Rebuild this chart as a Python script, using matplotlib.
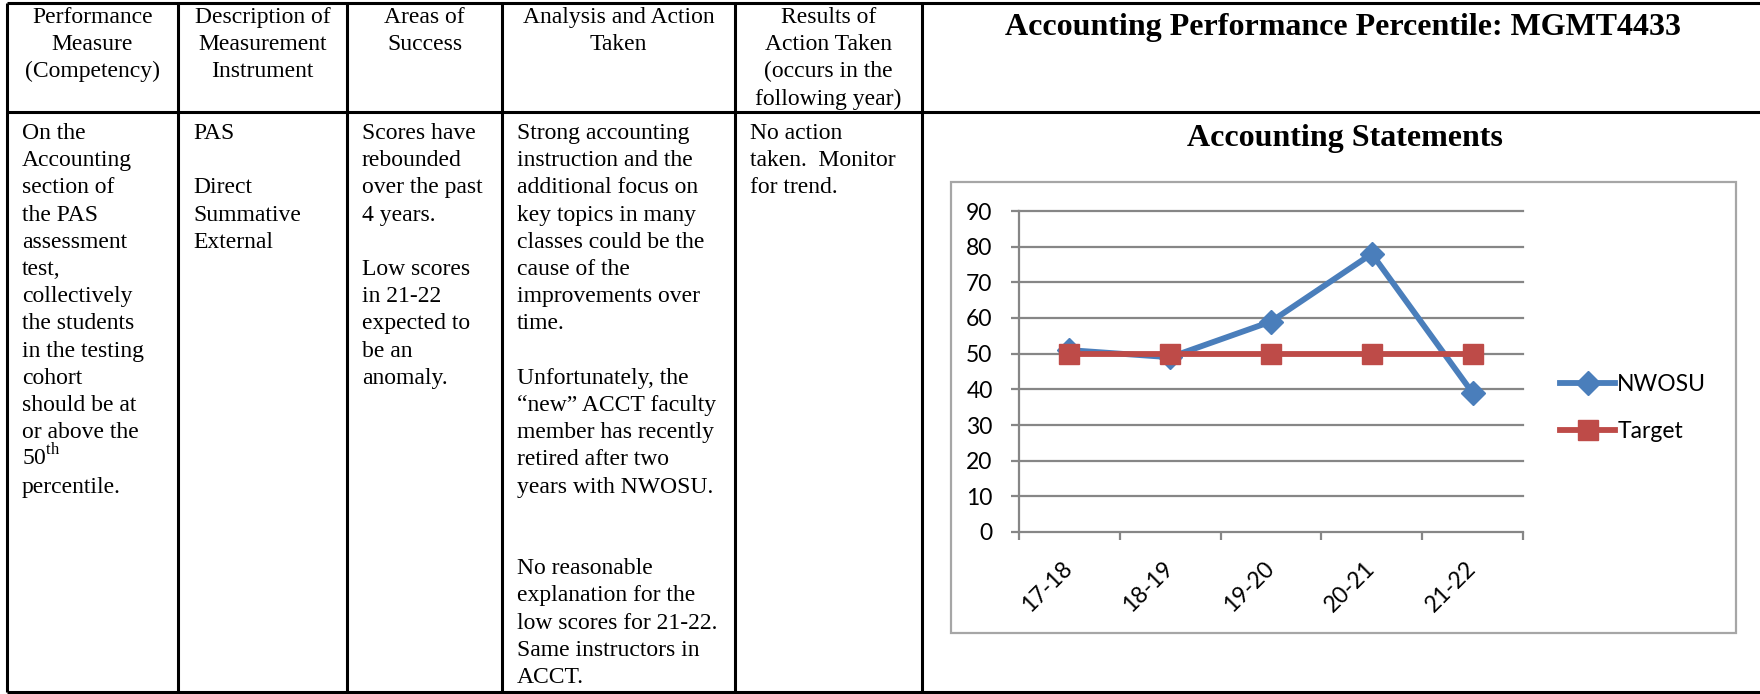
import matplotlib
matplotlib.use("Agg")
import matplotlib.pyplot as plt
from matplotlib.patches import Rectangle

plt.rcParams['mathtext.fontset'] = 'custom'
plt.rcParams['mathtext.rm'] = 'Liberation Serif'

# ---- table text ----
header_cells = [
    ["Performance", "Measure", "(Competency)"],
    ["Description of", "Measurement", "Instrument"],
    ["Areas of", "Success"],
    ["Analysis and Action", "Taken"],
    ["Results of", "Action Taken", "(occurs in the", "following year)"],
]
measure_lines = ["On the", "Accounting", "section of", "the PAS", "assessment",
                 "test,", "collectively", "the students", "in the testing",
                 "cohort", "should be at", "or above the",
                 r"50$^{\mathrm{th}}$", "percentile."]
instrument_lines = ["PAS", "", "Direct", "Summative", "External"]
success_lines = ["Scores have", "rebounded", "over the past", "4 years.", "",
                 "Low scores", "in 21-22", "expected to", "be an", "anomaly."]
analysis_lines = ["Strong accounting", "instruction and the",
                  "additional focus on", "key topics in many",
                  "classes could be the", "cause of the", "improvements over",
                  "time.", "", "Unfortunately, the",
                  "\u201cnew\u201d ACCT faculty", "member has recently",
                  "retired after two", "years with NWOSU.", "", "",
                  "No reasonable", "explanation for the",
                  "low scores for 21-22.", "Same instructors in", "ACCT."]
results_lines = ["No action", "taken.  Monitor", "for trend."]
body_cells = [measure_lines, instrument_lines, success_lines,
              analysis_lines, results_lines]

# ---- chart data ----
chart_heading = "Accounting Performance Percentile: MGMT4433"
chart_title = "Accounting Statements"
years = ["17-18", "18-19", "19-20", "20-21", "21-22"]
nwosu = [51, 49, 59, 78, 39]
target = [50, 50, 50, 50, 50]
y_ticks = [0, 10, 20, 30, 40, 50, 60, 70, 80, 90]

W, H = 1760, 694
fig = plt.figure(figsize=(W / 100, H / 100), dpi=100)
fig.patch.set_facecolor('white')

# page overlay in pixel coordinates
page = fig.add_axes([0, 0, 1, 1])
page.set_xlim(0, W)
page.set_ylim(H, 0)
page.axis('off')

col_edges = [7, 178, 347, 502, 735, 922]
top, mid, bottom = 3, 112, 692
serif = 'Liberation Serif'
body_size = 17
line_gap = 27.2

for x in col_edges:
    page.plot([x, x], [top, bottom], color='black', lw=2.2, solid_capstyle='butt')
for y in (top, mid, bottom):
    page.plot([col_edges[0], W], [y, y], color='black', lw=2.2, solid_capstyle='butt')

for i, lines in enumerate(header_cells):
    cx = (col_edges[i] + col_edges[i + 1]) / 2
    for j, s in enumerate(lines):
        page.text(cx, 23 + j * line_gap, s, ha='center', va='baseline',
                  fontsize=body_size, family=serif)

for i, lines in enumerate(body_cells):
    x0 = col_edges[i] + 15
    for j, s in enumerate(lines):
        if s:
            page.text(x0, 139 + j * line_gap, s, ha='left', va='baseline',
                      fontsize=body_size, family=serif)

page.text(1343, 35, chart_heading, ha='center', va='baseline',
          fontsize=23, weight='bold', family=serif)
page.text(1345, 146, chart_title, ha='center', va='baseline',
          fontsize=23, weight='bold', family=serif)

# chart frame
page.add_patch(Rectangle((951, 182), 1736 - 951, 633 - 182, fill=False,
                         ec='#a6a6a6', lw=1.6))

# ---- line chart ----
grey = '#868686'
sans = 'Lato'
ax = fig.add_axes([1019 / W, 1 - 532 / H, (1523 - 1019) / W, (532 - 211) / H])
ax.set_xlim(-0.5, len(years) - 0.5)
ax.set_ylim(0, 90)
ax.patch.set_alpha(0)

for v in y_ticks[1:]:
    ax.axhline(v, color=grey, lw=1.6, zorder=0, clip_on=False)

xs = list(range(len(years)))
ax.plot(xs, nwosu, color='#4a7ebb', lw=4.2, marker='D', ms=12,
        label='NWOSU', zorder=3, clip_on=False)
ax.plot(xs, target, color='#be4b48', lw=4.2, marker='s', ms=15,
        label='Target', zorder=4, clip_on=False)

for side in ('top', 'right'):
    ax.spines[side].set_visible(False)
for side in ('left', 'bottom'):
    ax.spines[side].set_color(grey)
    ax.spines[side].set_linewidth(1.6)

ax.set_yticks(y_ticks)
ax.set_yticklabels([str(v) for v in y_ticks], family=sans, fontsize=16.5)
ax.tick_params(axis='y', length=6, width=1.6, color=grey, pad=13)

ax.set_xticks(xs)
ax.set_xticks([x - 0.5 for x in xs] + [xs[-1] + 0.5], minor=True)
ax.set_xticklabels(years, family=sans, fontsize=16.5, rotation=45,
                   ha='right', va='center', rotation_mode='anchor')
ax.tick_params(axis='x', which='major', length=0, pad=24)
ax.tick_params(axis='x', which='minor', length=6, width=1.6, color=grey)

ax.legend(loc='center left', bbox_to_anchor=(1560 / W, 1 - 408 / H),
          bbox_transform=fig.transFigure, frameon=False,
          prop={'family': sans, 'size': 16.5}, handlelength=2.4,
          handletextpad=0.1, labelspacing=1.1, borderpad=0, borderaxespad=0)

fig.savefig('out.png', dpi=100)
